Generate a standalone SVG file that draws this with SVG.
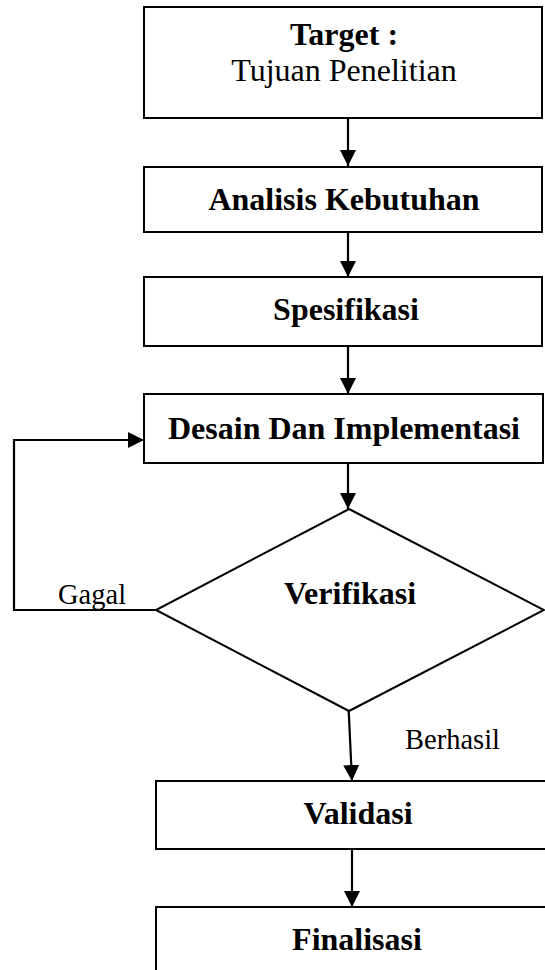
<svg xmlns="http://www.w3.org/2000/svg" width="545" height="970" viewBox="0 0 545 970">
<defs>
<style>
.box{fill:#fff;stroke:#000;stroke-width:2}
.b{font-family:"Liberation Serif","Times New Roman",serif;font-weight:bold;font-size:32px;fill:#000;text-anchor:middle}
.r{font-family:"Liberation Serif","Times New Roman",serif;font-size:32px;fill:#000;text-anchor:middle}
.lbl{font-family:"Liberation Serif","Times New Roman",serif;font-size:28.5px;fill:#000}
.ln{fill:none;stroke:#000;stroke-width:2.2}
</style>
<marker id="ah" markerUnits="userSpaceOnUse" markerWidth="16" markerHeight="16" viewBox="0 0 16 16" refX="16" refY="8" orient="auto">
<polygon points="0,0 16,8 0,16" fill="#000"/>
</marker>
</defs>
<rect width="545" height="970" fill="#fff"/>
<g id="connectors">
<line class="ln" x1="348" y1="118" x2="348" y2="166" marker-end="url(#ah)"/>
<line class="ln" x1="348" y1="232" x2="348" y2="277" marker-end="url(#ah)"/>
<line class="ln" x1="348" y1="346" x2="348" y2="394" marker-end="url(#ah)"/>
<line class="ln" x1="348" y1="463" x2="348" y2="509" marker-end="url(#ah)"/>
<polyline class="ln" points="156,610 14,610 14,440 144,440" marker-end="url(#ah)"/>
<line class="ln" x1="348" y1="696" x2="352" y2="781" marker-end="url(#ah)"/>
<line class="ln" x1="352" y1="849" x2="352" y2="907" marker-end="url(#ah)"/>
<text class="lbl" x="58" y="604">Gagal</text>
<text class="lbl" x="405" y="749">Berhasil</text>
</g>
<g id="target">
<rect class="box" x="144" y="7" width="398" height="111"/>
<text class="b" x="344" y="45">Target :</text>
<text class="r" x="344" y="81">Tujuan Penelitian</text>
</g>
<g id="analisis">
<rect class="box" x="144" y="167" width="398" height="65"/>
<text class="b" x="344" y="210">Analisis Kebutuhan</text>
</g>
<g id="spesifikasi">
<rect class="box" x="144" y="277" width="398" height="69"/>
<text class="b" x="346" y="320">Spesifikasi</text>
</g>
<g id="desain">
<rect class="box" x="144" y="394" width="399" height="69"/>
<text class="b" x="344" y="439">Desain Dan Implementasi</text>
</g>
<g id="verifikasi">
<polygon class="box" points="349,509 544,610 349,711 156,610"/>
<text class="b" x="350" y="604">Verifikasi</text>
</g>
<g id="validasi">
<rect class="box" x="156" y="781" width="410" height="68"/>
<text class="b" x="358" y="824">Validasi</text>
</g>
<g id="finalisasi">
<rect class="box" x="156" y="907" width="410" height="80"/>
<text class="b" x="357" y="950">Finalisasi</text>
</g>
</svg>
